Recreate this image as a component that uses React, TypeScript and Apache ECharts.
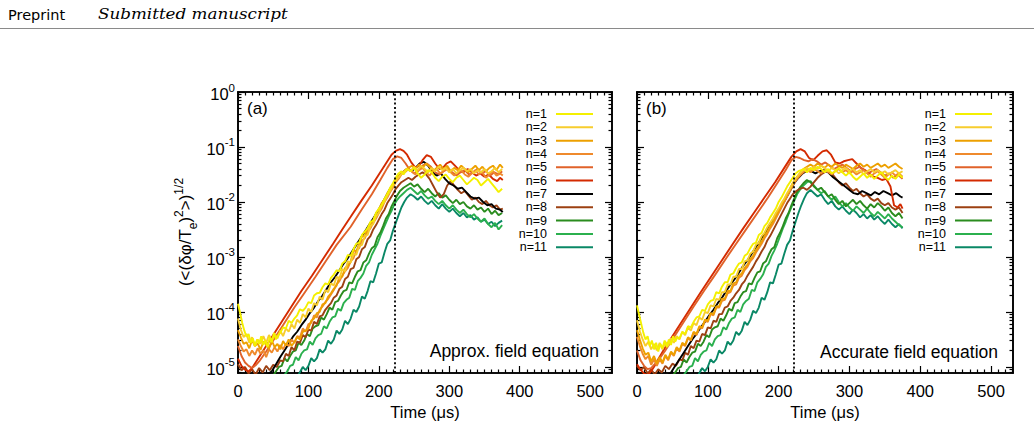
import { useEffect, useRef } from 'react';
import * as echarts from 'echarts';

// Mode numbers and their line colours
const MODE_NAMES = ['n=1', 'n=2', 'n=3', 'n=4', 'n=5', 'n=6', 'n=7', 'n=8', 'n=9', 'n=10', 'n=11'];
const MODE_COLORS = [
  '#f4f000', '#f7cd2e', '#eda000', '#ef8a2c', '#e0622a', '#d42a00',
  '#000000', '#9c4012', '#2a8c1e', '#2bb04e', '#0a8866',
];

// Axis ranges (y is stored as log10 of the RMS amplitude)
const X_MAX = 531;
const Y_LOG_MIN = -5.11;
const Y_LOG_MAX = 0;
const X_TICKS = [0, 100, 200, 300, 400, 500];
const Y_DECADES = [-5, -4, -3, -2, -1, 0];

// Onset of saturation (dotted marker), microseconds
const ONSET_A = 222;
const ONSET_B = 221;

// ---- (a) approximate field equation: [time (us), log10 amplitude]
const A_N1 = [[0,-3.85],[3,-4.02],[6,-4.2],[9,-4.34],[12,-4.45],[15,-4.4],[18,-4.56],[21,-4.48],[24,-4.62],[27,-4.5],[30,-4.58],[33,-4.44],[36,-4.6],[39,-4.52],[42,-4.64],[45,-4.46],[48,-4.55],[51,-4.38],[54,-4.5],[57,-4.42],[60,-4.38],[64,-4.28],[68,-4.3],[72,-4.16],[76,-4.2],[80,-4.12],[84,-4.06],[88,-3.95],[92,-3.98],[96,-3.92],[100,-3.82],[104,-3.84],[108,-3.7],[112,-3.66],[116,-3.65],[120,-3.55],[124,-3.48],[128,-3.5],[132,-3.38],[136,-3.32],[140,-3.24],[144,-3.26],[148,-3.12],[152,-3.08],[156,-2.96],[160,-2.98],[164,-2.86],[168,-2.76],[172,-2.74],[176,-2.6],[180,-2.54],[184,-2.48],[188,-2.36],[192,-2.34],[196,-2.2],[200,-2.12],[204,-2.06],[208,-1.94],[212,-1.86],[216,-1.74],[220,-1.66],[224,-1.56],[228,-1.48],[232,-1.44],[235,-1.5],[240,-1.4],[245,-1.44],[250,-1.38],[255,-1.48],[260,-1.56],[265,-1.5],[270,-1.42],[275,-1.46],[280,-1.56],[285,-1.62],[290,-1.54],[295,-1.5],[300,-1.58],[305,-1.64],[310,-1.56],[315,-1.52],[320,-1.6],[325,-1.68],[330,-1.62],[335,-1.56],[340,-1.6],[345,-1.7],[350,-1.64],[355,-1.58],[360,-1.66],[365,-1.74],[370,-1.82],[375,-1.76]];
const A_N2 = [[0,-4.12],[4,-4.32],[8,-4.46],[12,-4.4],[16,-4.56],[20,-4.46],[24,-4.62],[28,-4.5],[32,-4.58],[36,-4.44],[40,-4.56],[44,-4.42],[48,-4.52],[52,-4.4],[56,-4.48],[60,-4.34],[64,-4.44],[68,-4.3],[72,-4.36],[76,-4.22],[80,-4.3],[84,-4.14],[88,-4.2],[92,-4.04],[96,-4.1],[100,-3.94],[104,-4.0],[108,-3.84],[112,-3.88],[116,-3.72],[120,-3.78],[124,-3.6],[128,-3.64],[132,-3.48],[136,-3.52],[140,-3.36],[144,-3.4],[148,-3.22],[152,-3.26],[156,-3.08],[160,-3.1],[164,-2.94],[168,-2.96],[172,-2.8],[176,-2.78],[180,-2.62],[184,-2.6],[188,-2.44],[192,-2.4],[196,-2.26],[200,-2.2],[204,-2.06],[208,-2.0],[212,-1.88],[216,-1.8],[220,-1.7],[225,-1.6],[230,-1.52],[235,-1.46],[240,-1.4],[245,-1.44],[250,-1.36],[255,-1.42],[260,-1.34],[265,-1.4],[270,-1.46],[275,-1.38],[280,-1.44],[285,-1.36],[290,-1.42],[295,-1.38],[300,-1.46],[305,-1.4],[310,-1.48],[315,-1.42],[320,-1.38],[325,-1.44],[330,-1.4],[335,-1.48],[340,-1.42],[345,-1.46],[350,-1.4],[355,-1.48],[360,-1.44],[365,-1.38],[370,-1.46],[375,-1.4]];
const A_N3 = [[0,-4.33],[4,-4.46],[8,-4.58],[12,-4.55],[16,-4.66],[20,-4.51],[24,-4.62],[28,-4.57],[32,-4.69],[36,-4.54],[40,-4.59],[44,-4.67],[48,-4.52],[52,-4.64],[56,-4.58],[60,-4.68],[64,-4.53],[68,-4.61],[72,-4.5],[76,-4.62],[80,-4.55],[84,-4.46],[88,-4.5],[92,-4.36],[96,-4.34],[100,-4.3],[104,-4.16],[108,-4.12],[112,-4.02],[116,-4.0],[120,-3.86],[124,-3.84],[128,-3.72],[132,-3.66],[136,-3.58],[140,-3.52],[144,-3.36],[148,-3.36],[152,-3.2],[156,-3.16],[160,-3.08],[164,-2.88],[168,-2.9],[172,-2.76],[176,-2.62],[180,-2.62],[184,-2.48],[188,-2.4],[192,-2.34],[196,-2.2],[200,-2.14],[204,-2.02],[208,-1.96],[212,-1.84],[216,-1.76],[220,-1.7],[224,-1.6],[228,-1.54],[232,-1.48],[237,-1.42],[242,-1.38],[247,-1.34],[252,-1.4],[257,-1.32],[262,-1.38],[267,-1.3],[272,-1.36],[277,-1.44],[282,-1.38],[287,-1.32],[292,-1.4],[297,-1.34],[302,-1.44],[307,-1.38],[312,-1.42],[317,-1.34],[322,-1.4],[327,-1.46],[332,-1.4],[337,-1.34],[342,-1.42],[347,-1.36],[352,-1.44],[357,-1.38],[362,-1.34],[367,-1.42],[372,-1.32],[376,-1.38]];
const A_N4 = [[0,-4.5],[4,-4.62],[8,-4.72],[12,-4.68],[16,-4.8],[20,-4.7],[24,-4.78],[28,-4.66],[32,-4.76],[36,-4.7],[40,-4.82],[44,-4.68],[48,-4.74],[52,-4.64],[56,-4.72],[60,-4.6],[64,-4.68],[68,-4.58],[72,-4.62],[76,-4.5],[80,-4.56],[84,-4.44],[88,-4.46],[92,-4.3],[96,-4.36],[100,-4.22],[104,-4.2],[108,-4.06],[112,-4.1],[116,-3.96],[120,-3.9],[124,-3.82],[128,-3.76],[132,-3.68],[136,-3.6],[140,-3.5],[144,-3.44],[148,-3.34],[152,-3.26],[156,-3.2],[160,-3.08],[164,-3.02],[168,-2.88],[172,-2.84],[176,-2.7],[180,-2.66],[184,-2.54],[188,-2.48],[192,-2.38],[196,-2.3],[200,-2.2],[204,-2.12],[208,-2.0],[212,-1.92],[216,-1.82],[220,-1.74],[224,-1.64],[228,-1.58],[232,-1.5],[237,-1.46],[242,-1.4],[247,-1.44],[252,-1.5],[257,-1.42],[262,-1.38],[267,-1.46],[272,-1.52],[277,-1.44],[282,-1.4],[287,-1.48],[292,-1.44],[297,-1.38],[302,-1.46],[307,-1.52],[312,-1.46],[317,-1.42],[322,-1.5],[327,-1.54],[332,-1.48],[337,-1.42],[342,-1.5],[347,-1.46],[352,-1.56],[357,-1.5],[362,-1.44],[367,-1.52],[372,-1.48],[376,-1.52]];
const A_N5 = [[0,-4.62],[5,-4.8],[10,-4.92],[15,-4.98],[20,-5.02],[25,-4.97],[30,-4.9],[40,-4.72],[50,-4.52],[65,-4.22],[80,-3.92],[95,-3.64],[110,-3.36],[125,-3.07],[140,-2.78],[160,-2.45],[175,-2.15],[190,-1.86],[202,-1.6],[212,-1.38],[220,-1.22],[226,-1.17],[232,-1.2],[238,-1.3],[244,-1.42],[250,-1.48],[256,-1.42],[262,-1.34],[268,-1.3],[274,-1.36],[280,-1.46],[286,-1.5],[292,-1.44],[298,-1.4],[304,-1.46],[310,-1.52],[316,-1.46],[322,-1.42],[328,-1.5],[334,-1.46],[340,-1.4],[346,-1.48],[352,-1.44],[358,-1.52],[364,-1.46],[370,-1.5],[375,-1.44]];
const A_N6 = [[0,-4.85],[5,-4.98],[10,-5.05],[15,-5.08],[20,-5.02],[25,-4.92],[30,-4.82],[40,-4.62],[50,-4.42],[60,-4.22],[75,-3.92],[90,-3.62],[105,-3.34],[120,-3.05],[135,-2.76],[148,-2.5],[160,-2.27],[175,-1.98],[190,-1.7],[200,-1.5],[210,-1.3],[218,-1.14],[224,-1.07],[230,-1.04],[235,-1.07],[240,-1.14],[246,-1.28],[252,-1.38],[257,-1.34],[262,-1.24],[268,-1.15],[274,-1.18],[280,-1.3],[286,-1.4],[291,-1.38],[296,-1.3],[302,-1.26],[308,-1.34],[314,-1.42],[320,-1.46],[326,-1.4],[332,-1.46],[338,-1.52],[344,-1.48],[350,-1.54],[356,-1.5],[362,-1.58],[368,-1.62],[372,-1.56],[376,-1.6]];
const A_N7 = [[0,-5.2],[10,-5.3],[20,-5.28],[30,-5.22],[40,-5.15],[48,-5.08],[54,-4.95],[60,-4.82],[66,-4.7],[72,-4.58],[78,-4.45],[84,-4.36],[90,-4.24],[96,-4.14],[102,-4.02],[108,-3.92],[114,-3.8],[120,-3.7],[126,-3.58],[132,-3.46],[138,-3.36],[144,-3.24],[150,-3.12],[156,-3.02],[162,-2.9],[168,-2.78],[174,-2.66],[180,-2.54],[186,-2.42],[192,-2.3],[198,-2.18],[204,-2.04],[210,-1.9],[216,-1.76],[222,-1.64],[228,-1.54],[234,-1.46],[240,-1.4],[246,-1.44],[252,-1.38],[258,-1.3],[264,-1.27],[270,-1.34],[276,-1.46],[282,-1.52],[288,-1.48],[294,-1.58],[300,-1.66],[306,-1.7],[312,-1.76],[318,-1.74],[324,-1.82],[330,-1.9],[336,-1.94],[342,-1.92],[348,-2.0],[354,-2.06],[360,-2.04],[366,-2.12],[372,-2.14],[376,-2.18]];
const A_N8 = [[0,-4.95],[5,-5.06],[10,-5.0],[15,-5.12],[20,-5.04],[25,-5.14],[30,-5.02],[35,-5.1],[40,-4.98],[45,-5.06],[50,-4.96],[55,-5.0],[60,-4.88],[64,-4.9],[68,-4.76],[72,-4.8],[76,-4.64],[80,-4.7],[84,-4.54],[88,-4.56],[92,-4.42],[96,-4.46],[100,-4.32],[104,-4.34],[108,-4.18],[112,-4.22],[116,-4.08],[120,-4.06],[124,-3.96],[128,-3.9],[132,-3.84],[136,-3.74],[140,-3.7],[144,-3.58],[148,-3.54],[152,-3.4],[156,-3.36],[160,-3.22],[164,-3.2],[168,-3.04],[172,-3.0],[176,-2.86],[180,-2.82],[184,-2.68],[188,-2.62],[192,-2.5],[196,-2.42],[200,-2.32],[204,-2.22],[208,-2.14],[212,-2.02],[216,-1.94],[220,-1.86],[224,-1.76],[228,-1.7],[232,-1.64],[237,-1.6],[242,-1.56],[247,-1.6],[252,-1.54],[257,-1.5],[262,-1.46],[267,-1.5],[272,-1.58],[277,-1.7],[282,-1.82],[287,-1.92],[292,-1.86],[297,-1.7],[302,-1.62],[307,-1.7],[312,-1.78],[317,-1.84],[322,-1.8],[327,-1.88],[332,-1.96],[337,-1.92],[342,-2.0],[347,-2.04],[352,-1.98],[357,-2.06],[362,-2.1],[367,-2.06],[372,-2.14],[376,-2.12]];
const A_N9 = [[0,-5.4],[30,-5.35],[48,-5.2],[54,-5.08],[58,-5.0],[62,-4.98],[66,-4.84],[70,-4.9],[74,-4.8],[78,-4.72],[82,-4.7],[86,-4.56],[90,-4.6],[94,-4.52],[98,-4.4],[102,-4.44],[106,-4.3],[110,-4.26],[114,-4.24],[118,-4.1],[122,-4.14],[126,-4.04],[130,-3.92],[134,-3.96],[138,-3.82],[142,-3.8],[146,-3.7],[150,-3.62],[154,-3.6],[158,-3.46],[162,-3.48],[166,-3.36],[170,-3.26],[174,-3.24],[178,-3.1],[182,-3.06],[186,-2.94],[190,-2.84],[194,-2.8],[198,-2.64],[202,-2.56],[206,-2.44],[210,-2.3],[214,-2.22],[218,-2.08],[222,-1.98],[226,-1.88],[230,-1.8],[235,-1.74],[240,-1.7],[245,-1.66],[250,-1.72],[255,-1.68],[260,-1.76],[265,-1.82],[270,-1.76],[275,-1.84],[280,-1.9],[285,-1.84],[290,-1.92],[295,-1.88],[300,-1.96],[305,-2.02],[310,-1.96],[315,-2.04],[320,-2.0],[325,-2.08],[330,-2.12],[335,-2.06],[340,-2.14],[345,-2.1],[350,-2.18],[355,-2.12],[360,-2.22],[365,-2.16],[370,-2.24],[375,-2.2]];
const A_N10 = [[0,-5.5],[30,-5.45],[55,-5.3],[65,-5.16],[70,-5.08],[74,-4.98],[78,-4.96],[82,-4.82],[86,-4.88],[90,-4.76],[94,-4.7],[98,-4.68],[102,-4.54],[106,-4.6],[110,-4.48],[114,-4.42],[118,-4.4],[122,-4.26],[126,-4.3],[130,-4.18],[134,-4.1],[138,-4.08],[142,-3.94],[146,-3.98],[150,-3.84],[154,-3.78],[158,-3.74],[162,-3.58],[166,-3.6],[170,-3.44],[174,-3.38],[178,-3.3],[182,-3.16],[186,-3.1],[190,-2.96],[194,-2.86],[198,-2.76],[202,-2.62],[206,-2.5],[210,-2.38],[214,-2.26],[218,-2.16],[222,-2.04],[226,-1.96],[230,-1.9],[235,-1.84],[240,-1.78],[245,-1.74],[250,-1.8],[255,-1.86],[260,-1.8],[265,-1.88],[270,-1.94],[275,-1.9],[280,-1.98],[285,-2.04],[290,-1.98],[295,-2.06],[300,-2.12],[305,-2.06],[310,-2.14],[315,-2.2],[320,-2.14],[325,-2.22],[330,-2.28],[335,-2.22],[340,-2.3],[345,-2.36],[350,-2.3],[355,-2.4],[360,-2.46],[365,-2.38],[370,-2.5],[375,-2.42]];
const A_N11 = [[0,-5.6],[40,-5.55],[70,-5.4],[80,-5.25],[86,-5.14],[92,-5.0],[96,-5.06],[100,-4.98],[104,-4.84],[108,-4.9],[112,-4.84],[116,-4.68],[120,-4.74],[124,-4.68],[128,-4.52],[132,-4.58],[136,-4.5],[140,-4.34],[144,-4.4],[148,-4.32],[152,-4.16],[156,-4.22],[160,-4.12],[164,-3.96],[168,-4.0],[172,-3.9],[176,-3.72],[180,-3.76],[184,-3.62],[188,-3.44],[192,-3.46],[196,-3.3],[200,-3.12],[204,-3.1],[208,-2.92],[212,-2.76],[216,-2.7],[220,-2.52],[224,-2.38],[228,-2.24],[232,-2.1],[236,-2.0],[240,-1.92],[245,-1.86],[250,-1.9],[255,-1.96],[260,-1.9],[265,-1.98],[270,-2.04],[275,-1.98],[280,-2.06],[285,-2.12],[290,-2.04],[295,-2.12],[300,-2.18],[305,-2.12],[310,-2.2],[315,-2.26],[320,-2.2],[325,-2.28],[330,-2.24],[335,-2.32],[340,-2.28],[345,-2.36],[350,-2.32],[355,-2.4],[360,-2.36],[365,-2.44],[370,-2.38],[375,-2.34]];

// ---- (b) accurate field equation: [time (us), log10 amplitude]
const B_N1 = [[0,-3.88],[3,-4.05],[6,-4.22],[9,-4.38],[12,-4.5],[15,-4.44],[18,-4.62],[21,-4.52],[24,-4.68],[27,-4.56],[30,-4.72],[33,-4.58],[36,-4.66],[39,-4.52],[42,-4.64],[45,-4.5],[48,-4.6],[51,-4.44],[54,-4.54],[57,-4.46],[60,-4.48],[64,-4.36],[68,-4.4],[72,-4.26],[76,-4.28],[80,-4.18],[84,-4.1],[88,-4.08],[92,-3.96],[96,-3.98],[100,-3.86],[104,-3.8],[108,-3.78],[112,-3.64],[116,-3.66],[120,-3.54],[124,-3.46],[128,-3.46],[132,-3.32],[136,-3.3],[140,-3.2],[144,-3.12],[148,-3.1],[152,-2.98],[156,-2.94],[160,-2.84],[164,-2.76],[168,-2.74],[172,-2.6],[176,-2.56],[180,-2.44],[184,-2.38],[188,-2.28],[192,-2.2],[196,-2.12],[200,-2.0],[204,-1.92],[208,-1.82],[212,-1.72],[216,-1.64],[220,-1.56],[224,-1.48],[228,-1.44],[232,-1.42],[236,-1.4],[240,-1.46],[245,-1.38],[250,-1.42],[255,-1.36],[260,-1.4],[265,-1.46],[270,-1.4],[275,-1.48],[280,-1.44],[285,-1.38],[290,-1.46],[295,-1.52],[300,-1.46],[305,-1.54],[310,-1.6],[315,-1.54],[320,-1.48],[325,-1.56],[330,-1.5],[335,-1.58],[340,-1.52],[345,-1.46],[350,-1.54],[355,-1.6],[360,-1.52],[365,-1.58],[370,-1.5],[375,-1.56]];
const B_N2 = [[0,-4.15],[4,-4.35],[8,-4.5],[12,-4.62],[16,-4.54],[20,-4.68],[24,-4.58],[28,-4.7],[32,-4.56],[36,-4.68],[40,-4.54],[44,-4.62],[48,-4.48],[52,-4.56],[56,-4.44],[60,-4.5],[64,-4.36],[68,-4.42],[72,-4.28],[76,-4.34],[80,-4.2],[84,-4.24],[88,-4.1],[92,-4.14],[96,-4.0],[100,-4.02],[104,-3.88],[108,-3.9],[112,-3.76],[116,-3.78],[120,-3.64],[124,-3.64],[128,-3.5],[132,-3.5],[136,-3.36],[140,-3.36],[144,-3.22],[148,-3.22],[152,-3.08],[156,-3.06],[160,-2.94],[164,-2.9],[168,-2.78],[172,-2.74],[176,-2.62],[180,-2.56],[184,-2.46],[188,-2.38],[192,-2.3],[196,-2.2],[200,-2.12],[204,-2.02],[208,-1.94],[212,-1.84],[216,-1.76],[220,-1.66],[225,-1.56],[230,-1.48],[235,-1.42],[240,-1.38],[245,-1.42],[250,-1.36],[255,-1.4],[260,-1.34],[265,-1.38],[270,-1.44],[275,-1.38],[280,-1.42],[285,-1.48],[290,-1.42],[295,-1.38],[300,-1.44],[305,-1.4],[310,-1.46],[315,-1.42],[320,-1.5],[325,-1.44],[330,-1.4],[335,-1.46],[340,-1.42],[345,-1.48],[350,-1.44],[355,-1.5],[360,-1.46],[365,-1.42],[370,-1.48],[375,-1.44]];
const B_N3 = [[0,-4.33],[4,-4.5],[8,-4.66],[12,-4.78],[16,-4.74],[20,-4.9],[24,-4.8],[28,-4.94],[32,-4.82],[36,-4.92],[40,-4.78],[44,-4.86],[48,-4.72],[52,-4.78],[56,-4.64],[60,-4.7],[64,-4.56],[68,-4.6],[72,-4.46],[76,-4.5],[80,-4.36],[84,-4.4],[88,-4.26],[92,-4.28],[96,-4.14],[100,-4.16],[104,-4.02],[108,-4.04],[112,-3.9],[116,-3.9],[120,-3.76],[124,-3.76],[128,-3.62],[132,-3.62],[136,-3.48],[140,-3.46],[144,-3.34],[148,-3.3],[152,-3.2],[156,-3.14],[160,-3.04],[164,-2.98],[168,-2.88],[172,-2.8],[176,-2.72],[180,-2.62],[184,-2.54],[188,-2.44],[192,-2.36],[196,-2.26],[200,-2.16],[204,-2.06],[208,-1.96],[212,-1.86],[216,-1.76],[220,-1.66],[225,-1.56],[230,-1.48],[235,-1.4],[240,-1.36],[245,-1.32],[250,-1.36],[255,-1.3],[260,-1.34],[265,-1.38],[270,-1.32],[275,-1.36],[280,-1.3],[285,-1.34],[290,-1.38],[295,-1.32],[300,-1.36],[305,-1.4],[310,-1.34],[315,-1.3],[320,-1.36],[325,-1.32],[330,-1.38],[335,-1.34],[340,-1.3],[345,-1.36],[350,-1.32],[355,-1.38],[360,-1.34],[365,-1.3],[370,-1.36],[375,-1.4]];
const B_N4 = [[0,-4.45],[4,-4.62],[8,-4.76],[12,-4.86],[16,-4.8],[20,-4.96],[24,-4.86],[28,-4.98],[32,-4.86],[36,-4.94],[40,-4.8],[44,-4.88],[48,-4.74],[52,-4.8],[56,-4.66],[60,-4.72],[64,-4.58],[68,-4.62],[72,-4.48],[76,-4.52],[80,-4.38],[84,-4.42],[88,-4.28],[92,-4.3],[96,-4.16],[100,-4.18],[104,-4.04],[108,-4.06],[112,-3.92],[116,-3.92],[120,-3.8],[124,-3.78],[128,-3.66],[132,-3.64],[136,-3.52],[140,-3.5],[144,-3.38],[148,-3.34],[152,-3.24],[156,-3.18],[160,-3.08],[164,-3.02],[168,-2.92],[172,-2.84],[176,-2.76],[180,-2.66],[184,-2.58],[188,-2.48],[192,-2.4],[196,-2.3],[200,-2.2],[204,-2.1],[208,-2.0],[212,-1.9],[216,-1.8],[220,-1.7],[225,-1.6],[230,-1.52],[235,-1.46],[240,-1.42],[245,-1.46],[250,-1.4],[255,-1.44],[260,-1.48],[265,-1.42],[270,-1.46],[275,-1.5],[280,-1.44],[285,-1.4],[290,-1.46],[295,-1.42],[300,-1.48],[305,-1.44],[310,-1.5],[315,-1.46],[320,-1.42],[325,-1.48],[330,-1.54],[335,-1.48],[340,-1.44],[345,-1.5],[350,-1.56],[355,-1.5],[360,-1.46],[365,-1.52],[370,-1.48],[375,-1.54]];
const B_N5 = [[0,-4.7],[5,-4.88],[10,-4.98],[15,-5.04],[20,-5.02],[25,-4.95],[30,-4.88],[40,-4.7],[50,-4.5],[65,-4.2],[80,-3.9],[95,-3.61],[110,-3.33],[125,-3.04],[140,-2.76],[155,-2.48],[170,-2.2],[185,-1.92],[198,-1.66],[210,-1.42],[218,-1.24],[224,-1.18],[230,-1.2],[236,-1.24],[242,-1.26],[248,-1.22],[254,-1.26],[260,-1.32],[266,-1.28],[272,-1.34],[278,-1.4],[284,-1.36],[290,-1.32],[296,-1.38],[302,-1.44],[308,-1.4],[314,-1.36],[320,-1.42],[326,-1.48],[332,-1.44],[338,-1.4],[344,-1.46],[350,-1.52],[356,-1.48],[362,-1.56],[368,-1.5],[375,-1.58]];
const B_N6 = [[0,-4.95],[5,-5.05],[10,-5.12],[15,-5.15],[20,-5.08],[25,-4.98],[30,-4.86],[40,-4.64],[50,-4.44],[60,-4.24],[75,-3.94],[90,-3.64],[105,-3.35],[120,-3.06],[135,-2.77],[150,-2.48],[165,-2.2],[180,-1.92],[195,-1.64],[208,-1.38],[218,-1.18],[225,-1.08],[231,-1.04],[237,-1.08],[243,-1.2],[249,-1.24],[255,-1.16],[262,-1.08],[268,-1.06],[274,-1.14],[280,-1.28],[286,-1.3],[292,-1.26],[298,-1.24],[304,-1.22],[310,-1.3],[316,-1.38],[322,-1.42],[328,-1.48],[334,-1.54],[340,-1.56],[346,-1.6],[352,-1.58],[358,-1.72],[363,-2.06],[368,-2.1],[372,-2.04],[375,-2.12]];
const B_N7 = [[0,-5.25],[20,-5.3],[40,-5.18],[48,-5.1],[54,-4.98],[60,-4.86],[66,-4.74],[72,-4.62],[78,-4.5],[84,-4.4],[90,-4.28],[96,-4.18],[102,-4.06],[108,-3.96],[114,-3.84],[120,-3.74],[126,-3.62],[132,-3.5],[138,-3.4],[144,-3.28],[150,-3.16],[156,-3.06],[162,-2.94],[168,-2.82],[174,-2.7],[180,-2.58],[186,-2.46],[192,-2.34],[198,-2.22],[204,-2.08],[210,-1.94],[216,-1.8],[222,-1.66],[228,-1.56],[234,-1.48],[240,-1.43],[246,-1.44],[252,-1.48],[258,-1.44],[264,-1.42],[270,-1.46],[276,-1.54],[282,-1.6],[288,-1.66],[294,-1.72],[300,-1.78],[306,-1.84],[312,-1.86],[318,-1.8],[324,-1.84],[330,-1.88],[336,-1.82],[342,-1.86],[348,-1.8],[354,-1.84],[360,-1.88],[366,-1.84],[372,-1.9],[375,-1.92]];
const B_N8 = [[0,-4.98],[5,-5.06],[10,-5.0],[15,-5.12],[20,-5.04],[25,-5.14],[30,-5.04],[35,-5.1],[40,-4.98],[45,-5.04],[50,-4.94],[55,-4.98],[60,-4.86],[64,-4.88],[68,-4.74],[72,-4.78],[76,-4.62],[80,-4.66],[84,-4.52],[88,-4.54],[92,-4.4],[96,-4.42],[100,-4.28],[104,-4.3],[108,-4.16],[112,-4.18],[116,-4.04],[120,-4.04],[124,-3.92],[128,-3.9],[132,-3.8],[136,-3.74],[140,-3.66],[144,-3.6],[148,-3.5],[152,-3.44],[156,-3.34],[160,-3.26],[164,-3.18],[168,-3.08],[172,-3.0],[176,-2.9],[180,-2.82],[184,-2.7],[188,-2.62],[192,-2.52],[196,-2.42],[200,-2.32],[204,-2.22],[208,-2.12],[212,-2.02],[216,-1.94],[220,-1.86],[225,-1.8],[230,-1.76],[235,-1.74],[240,-1.78],[245,-1.72],[250,-1.64],[255,-1.56],[260,-1.5],[265,-1.46],[270,-1.42],[275,-1.48],[280,-1.56],[285,-1.64],[290,-1.7],[295,-1.66],[300,-1.74],[305,-1.8],[310,-1.76],[315,-1.84],[320,-1.9],[325,-1.86],[330,-1.94],[335,-1.98],[340,-1.94],[345,-2.02],[350,-2.06],[355,-2.02],[360,-2.1],[365,-2.14],[370,-2.1],[375,-2.2]];
const B_N9 = [[0,-5.4],[30,-5.36],[48,-5.2],[54,-5.1],[58,-5.02],[62,-5.0],[66,-4.86],[70,-4.92],[74,-4.82],[78,-4.74],[82,-4.72],[86,-4.58],[90,-4.62],[94,-4.54],[98,-4.42],[102,-4.46],[106,-4.32],[110,-4.28],[114,-4.26],[118,-4.12],[122,-4.16],[126,-4.06],[130,-3.94],[134,-3.98],[138,-3.84],[142,-3.82],[146,-3.72],[150,-3.64],[154,-3.62],[158,-3.48],[162,-3.5],[166,-3.38],[170,-3.28],[174,-3.26],[178,-3.12],[182,-3.08],[186,-2.96],[190,-2.86],[194,-2.82],[198,-2.66],[202,-2.56],[206,-2.44],[210,-2.3],[214,-2.2],[218,-2.06],[222,-1.94],[226,-1.82],[230,-1.74],[235,-1.66],[240,-1.6],[245,-1.64],[250,-1.72],[255,-1.78],[260,-1.74],[265,-1.82],[270,-1.9],[275,-1.86],[280,-1.96],[285,-2.04],[290,-1.98],[295,-2.08],[300,-2.02],[305,-1.96],[310,-2.04],[315,-1.98],[320,-2.06],[325,-2.12],[330,-2.04],[335,-2.1],[340,-2.02],[345,-2.08],[350,-2.16],[355,-2.1],[360,-2.2],[365,-2.26],[370,-2.2],[375,-2.3]];
const B_N10 = [[0,-5.5],[30,-5.45],[55,-5.3],[65,-5.16],[70,-5.08],[74,-5.0],[78,-4.98],[82,-4.84],[86,-4.9],[90,-4.78],[94,-4.72],[98,-4.7],[102,-4.56],[106,-4.62],[110,-4.5],[114,-4.44],[118,-4.42],[122,-4.28],[126,-4.32],[130,-4.2],[134,-4.12],[138,-4.1],[142,-3.96],[146,-4.0],[150,-3.86],[154,-3.8],[158,-3.76],[162,-3.6],[166,-3.62],[170,-3.46],[174,-3.4],[178,-3.32],[182,-3.18],[186,-3.12],[190,-2.98],[194,-2.88],[198,-2.76],[202,-2.62],[206,-2.48],[210,-2.36],[214,-2.22],[218,-2.1],[222,-1.98],[226,-1.86],[230,-1.78],[235,-1.7],[240,-1.64],[245,-1.62],[250,-1.7],[255,-1.78],[260,-1.84],[265,-1.8],[270,-1.9],[275,-1.96],[280,-1.9],[285,-2.0],[290,-2.08],[295,-2.02],[300,-2.1],[305,-2.16],[310,-2.08],[315,-2.14],[320,-2.2],[325,-2.12],[330,-2.2],[335,-2.26],[340,-2.18],[345,-2.24],[350,-2.3],[355,-2.22],[360,-2.3],[365,-2.36],[370,-2.42],[375,-2.46]];
const B_N11 = [[0,-5.6],[40,-5.55],[70,-5.4],[80,-5.26],[86,-5.16],[92,-5.02],[96,-5.08],[100,-5.0],[104,-4.86],[108,-4.92],[112,-4.86],[116,-4.7],[120,-4.76],[124,-4.7],[128,-4.54],[132,-4.6],[136,-4.52],[140,-4.36],[144,-4.42],[148,-4.34],[152,-4.18],[156,-4.24],[160,-4.14],[164,-3.98],[168,-4.02],[172,-3.92],[176,-3.74],[180,-3.78],[184,-3.64],[188,-3.46],[192,-3.48],[196,-3.32],[200,-3.14],[204,-3.12],[208,-2.94],[212,-2.78],[216,-2.7],[220,-2.52],[224,-2.36],[228,-2.2],[232,-2.06],[236,-1.94],[240,-1.84],[245,-1.78],[250,-1.84],[255,-1.9],[260,-1.86],[265,-1.96],[270,-2.04],[275,-1.98],[280,-2.08],[285,-2.14],[290,-2.08],[295,-2.16],[300,-2.22],[305,-2.14],[310,-2.2],[315,-2.28],[320,-2.22],[325,-2.3],[330,-2.24],[335,-2.32],[340,-2.26],[345,-2.34],[350,-2.4],[355,-2.32],[360,-2.4],[365,-2.46],[370,-2.4],[375,-2.48]];

const PANEL_A = [A_N1, A_N2, A_N3, A_N4, A_N5, A_N6, A_N7, A_N8, A_N9, A_N10, A_N11];
const PANEL_B = [B_N1, B_N2, B_N3, B_N4, B_N5, B_N6, B_N7, B_N8, B_N9, B_N10, B_N11];

const FONT = '"Liberation Sans", Arial, Helvetica, sans-serif';

// Minor tick positions: every 10 us on x, 2..9 x 10^d on the log y axis
const X_MINOR: number[] = [];
for (let t = 10; t < X_MAX; t += 10) if (t % 100 !== 0) X_MINOR.push(t);
const Y_MINOR: number[] = [];
for (let d = -6; d < 0; d++) {
  for (let k = 2; k <= 9; k++) {
    const v = d + Math.log10(k);
    if (v > Y_LOG_MIN && v < Y_LOG_MAX) Y_MINOR.push(v);
  }
}

const AXIS_LINE = { show: true, onZero: false, lineStyle: { color: '#000', width: 1.6 } };
const TICK_STYLE = { color: '#000', width: 1.2 };

function xAxesFor(gridIndex: number) {
  const base = {
    type: 'value', gridIndex, min: 0, max: X_MAX,
    splitLine: { show: false }, axisLine: AXIS_LINE,
  };
  const major = { show: true, inside: true, length: 7, customValues: X_TICKS, lineStyle: TICK_STYLE };
  const minor = { show: true, inside: true, length: 3.5, customValues: X_MINOR, lineStyle: TICK_STYLE };
  return [
    {
      ...base, position: 'bottom', axisTick: major,
      name: 'Time (\u03bcs)', nameLocation: 'middle', nameGap: 28,
      nameTextStyle: { fontFamily: FONT, fontSize: 16.5, color: '#000' },
      axisLabel: { show: true, customValues: X_TICKS, margin: 9, fontFamily: FONT, fontSize: 16.5, color: '#000' },
    },
    { ...base, position: 'bottom', axisTick: minor, axisLabel: { show: false } },
    { ...base, position: 'top', axisTick: major, axisLabel: { show: false } },
    { ...base, position: 'top', axisTick: minor, axisLabel: { show: false } },
  ];
}

function yAxesFor(gridIndex: number, withLabels: boolean) {
  const base = {
    type: 'value', gridIndex, min: Y_LOG_MIN, max: Y_LOG_MAX,
    splitLine: { show: false }, axisLine: AXIS_LINE,
  };
  const major = { show: true, inside: true, length: 7, customValues: Y_DECADES, lineStyle: TICK_STYLE };
  const minor = { show: true, inside: true, length: 3.5, customValues: Y_MINOR, lineStyle: TICK_STYLE };
  return [
    {
      ...base, position: 'left', axisTick: major,
      axisLabel: withLabels
        ? {
            show: true, customValues: Y_DECADES, margin: 3,
            formatter: (v: number) => `{b|10}{s|${Math.round(v)}}`,
            rich: {
              b: { fontFamily: FONT, fontSize: 16.5, lineHeight: 21, verticalAlign: 'bottom', color: '#000' },
              s: { fontFamily: FONT, fontSize: 11.5, lineHeight: 12, verticalAlign: 'top', color: '#000' },
            },
          }
        : { show: false },
    },
    { ...base, position: 'left', axisTick: minor, axisLabel: { show: false } },
    { ...base, position: 'right', axisTick: major, axisLabel: { show: false } },
    { ...base, position: 'right', axisTick: minor, axisLabel: { show: false } },
  ];
}

// Higher modes are drawn first so the low-n curves sit on top
function panelSeries(panel: number[][][], axisBase: number, onset: number) {
  const out: any[] = [];
  for (let i = panel.length - 1; i >= 0; i--) {
    out.push({
      name: MODE_NAMES[i],
      type: 'line',
      xAxisIndex: axisBase,
      yAxisIndex: axisBase,
      data: panel[i],
      showSymbol: false,
      symbol: 'none',
      clip: true,
      silent: true,
      color: MODE_COLORS[i],
      itemStyle: { color: MODE_COLORS[i] },
      lineStyle: { color: MODE_COLORS[i], width: 1.9 },
      markLine: i === 0
        ? {
            silent: true, symbol: ['none', 'none'], label: { show: false },
            lineStyle: { color: '#000', type: [2, 2.4], width: 1.8 },
            data: [{ xAxis: onset }],
          }
        : undefined,
    });
  }
  return out;
}

function legendFor(rightEdge: number) {
  return {
    data: MODE_NAMES,
    orient: 'vertical',
    align: 'right',
    right: 1034 - rightEdge,
    top: 107.3,
    padding: 0,
    itemGap: 0,
    itemWidth: 37,
    itemHeight: 2,
    icon: 'rect',
    selectedMode: false,
    textStyle: { fontFamily: FONT, fontSize: 12.5, color: '#000', lineHeight: 13.33, padding: [0, 4, 0, 0] },
  };
}

export default function App() {
  const ref = useRef<HTMLDivElement>(null);

  useEffect(() => {
    if (!ref.current) return;
    const chart = echarts.init(ref.current, undefined, { renderer: 'svg' });
    chart.setOption({
      animation: false,
      backgroundColor: '#fff',
      grid: [
        { left: 238, top: 92, width: 374, height: 281 },
        { left: 637, top: 92, width: 376, height: 281 },
      ],
      xAxis: [...xAxesFor(0), ...xAxesFor(1)],
      yAxis: [...yAxesFor(0, true), ...yAxesFor(1, false)],
      legend: [legendFor(593), legendFor(992)],
      series: [...panelSeries(PANEL_A, 0, ONSET_A), ...panelSeries(PANEL_B, 4, ONSET_B)],
      graphic: [
        { type: 'text', left: 8, top: 7, style: { text: 'Preprint', font: '14.5px "DejaVu Sans", sans-serif', fill: '#000' } },
        { type: 'text', x: 98, y: 6, scaleX: 1.08, style: { text: 'Submitted manuscript', font: 'italic 15.5px "DejaVu Serif", serif', fill: '#000' } },
        { type: 'line', shape: { x1: 0, y1: 28.5, x2: 1034, y2: 28.5 }, style: { stroke: '#8a8a8a', lineWidth: 1 } },
        { type: 'text', x: 247, y: 108, style: { text: '(a)', font: `17px ${FONT}`, fill: '#000', verticalAlign: 'middle' } },
        { type: 'text', x: 646, y: 108, style: { text: '(b)', font: `17px ${FONT}`, fill: '#000', verticalAlign: 'middle' } },
        { type: 'text', x: 599, y: 351, style: { text: 'Approx. field equation', font: `17.5px ${FONT}`, fill: '#000', align: 'right', verticalAlign: 'middle' } },
        { type: 'text', x: 998, y: 352, style: { text: 'Accurate field equation', font: `17.5px ${FONT}`, fill: '#000', align: 'right', verticalAlign: 'middle' } },
        {
          type: 'text', x: 185.5, y: 232, rotation: Math.PI / 2,
          style: {
            text: '{m|(<(\u03b4\u03c6/T}{sub|e}{m|)}{sup|2}{m|>)}{sup|1/2}',
            align: 'center', verticalAlign: 'middle', fill: '#000',
            rich: {
              m: { fontFamily: FONT, fontSize: 17, lineHeight: 26, verticalAlign: 'middle' },
              sub: { fontFamily: FONT, fontSize: 12, lineHeight: 16, verticalAlign: 'bottom' },
              sup: { fontFamily: FONT, fontSize: 12, lineHeight: 12, verticalAlign: 'top' },
            },
          },
        },
      ],
    });
    return () => chart.dispose();
  }, []);

  return <div ref={ref} style={{ position: 'absolute', left: 0, top: 0, width: 1034, height: 447 }} />;
}
